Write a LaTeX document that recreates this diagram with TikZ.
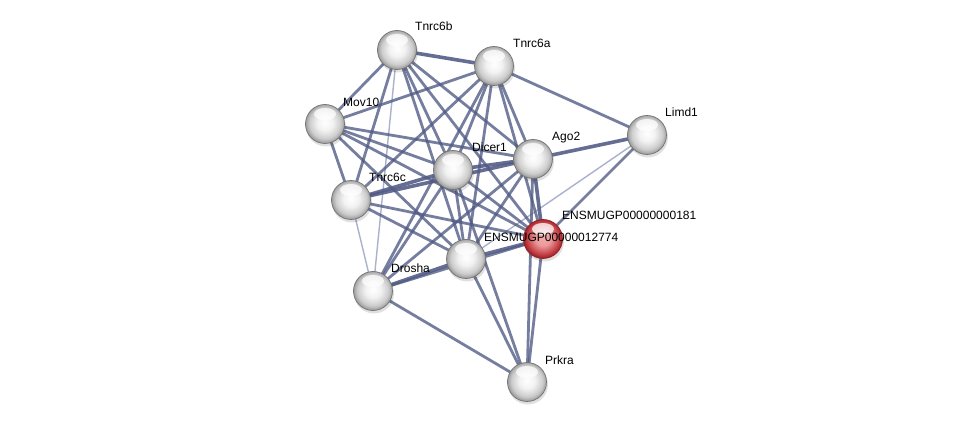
\documentclass[tikz,border=0pt]{standalone}
\usepackage{fontspec}
\setmainfont{Liberation Sans}
\usetikzlibrary{calc}
\definecolor{edgec}{RGB}{80,90,132}
\definecolor{weakc}{RGB}{150,158,192}
\definecolor{redin}{RGB}{240,170,170}
\definecolor{redout}{RGB}{200,70,75}
\definecolor{redrim}{RGB}{150,30,35}
\pgfdeclareradialshading{gball}{\pgfpoint{0bp}{2bp}}{color(0bp)=(white); color(10bp)=(white!95!black); color(20bp)=(white!80!black); color(25bp)=(white!62!black); color(50bp)=(white!62!black)}
\pgfdeclareradialshading{rball}{\pgfpoint{0bp}{2bp}}{color(0bp)=(redin); color(10bp)=(redin!85!redout); color(20bp)=(redout); color(25bp)=(redrim!85!redout); color(50bp)=(redrim)}
\tikzset{
  ballnode/.style={circle, minimum size=39pt, inner sep=0pt, draw=white!45!black, line width=0.7pt, shading=gball},
  redball/.style={circle, minimum size=39pt, inner sep=0pt, draw=redrim, line width=0.7pt, shading=rball},
  lab/.style={anchor=base west, inner sep=0pt, font=\fontsize{12}{14}\selectfont, text=black},
  med/.style={draw=edgec, line width=2.8pt, opacity=0.78},
  strong/.style={draw=edgec, line width=3.6pt, opacity=0.88},
  weak/.style={draw=weakc, line width=1.4pt, opacity=0.8},
}
\begin{document}
\begin{tikzpicture}[x=1pt,y=-1pt]
\useasboundingbox (0,0) rectangle (976,427);
\fill[white] (0,0) rectangle (976,427);
% node coordinates
\coordinate (A) at (397,50);
\coordinate (B) at (494,66);
\coordinate (C) at (325,124);
\coordinate (D) at (647,135);
\coordinate (E) at (533,159);
\coordinate (F) at (453,170);
\coordinate (G) at (351,200);
\coordinate (H) at (543,239);
\coordinate (I) at (466,259);
\coordinate (J) at (373,291);
\coordinate (K) at (527,382);
% edges
\draw[weak] (A) -- (J);
\draw[weak] (G) -- (J);
\draw[weak] (D) -- (I);
\draw[med] (A) -- (C);
\draw[med] (A) -- (G);
\draw[med] (A) -- (F);
\draw[med] (A) -- (E);
\draw[med] (A) -- (H);
\draw[med] (A) -- (I);
\draw[med] (B) -- (C);
\draw[med] (B) -- (D);
\draw[med] (B) -- (G);
\draw[med] (B) -- (F);
\draw[med] (B) -- (E);
\draw[med] (B) -- (H);
\draw[med] (B) -- (I);
\draw[med] (B) -- (J);
\draw[med] (C) -- (G);
\draw[med] (C) -- (F);
\draw[med] (C) -- (E);
\draw[med] (C) -- (H);
\draw[med] (C) -- (I);
\draw[med] (G) -- (H);
\draw[med] (G) -- (I);
\draw[med] (F) -- (H);
\draw[med] (F) -- (I);
\draw[med] (F) -- (J);
\draw[med] (F) -- (K);
\draw[med] (E) -- (I);
\draw[med] (E) -- (J);
\draw[med] (E) -- (K);
\draw[med] (H) -- (K);
\draw[med] (I) -- (K);
\draw[med] (J) -- (K);
\draw[med] (J) -- (H);
\draw[med] (D) -- (H);
\draw[strong] (A) -- (B);
\draw[strong] (G) -- (F);
\draw[strong] (G) -- (E);
\draw[strong] (F) -- (E);
\draw[strong] (E) -- (D);
\draw[strong] (E) -- (H);
\draw[strong] (H) -- (I);
\draw[strong] (I) -- (J);
% shadows
\foreach \c in {A,B,C,D,E,F,G,H,I,J,K}{
  \fill[black, opacity=0.12] ($(\c)+(1,2.5)$) circle (20pt);
}
% nodes
\node[ballnode] (nA) at (A) {};
\node[ballnode] (nB) at (B) {};
\node[ballnode] (nC) at (C) {};
\node[ballnode] (nD) at (D) {};
\node[ballnode] (nE) at (E) {};
\node[ballnode] (nF) at (F) {};
\node[ballnode] (nG) at (G) {};
\node[redball] (nH) at (H) {};
\node[ballnode] (nI) at (I) {};
\node[ballnode] (nJ) at (J) {};
\node[ballnode] (nK) at (K) {};
\foreach \c in {nA,nB,nC,nD,nE,nF,nG,nH,nI,nJ,nK}{
  \fill[white, opacity=0.75] ($(\c.center)+(0,-10)$) ellipse (11pt and 6pt);
}
% labels
\node[lab] (lA) at (415,31) {Tnrc6b};
\node[lab] (lB) at (513,48) {Tnrc6a};
\node[lab] (lC) at (343,107) {Mov10};
\node[lab] (lF) at (472,152) {Dicer1};
\node[lab] (lE) at (552,141) {Ago2};
\node[lab] (lG) at (369,182) {Tnrc6c};
\node[lab] (lD) at (665,117) {Limd1};
\node[lab] (lH) at (562,220) {ENSMUGP00000000181};
\node[lab] (lI) at (484,242) {ENSMUGP00000012774};
\node[lab] (lJ) at (391,273) {Drosha};
\node[lab] (lK) at (545,364) {Prkra};
\end{tikzpicture}
\end{document}
